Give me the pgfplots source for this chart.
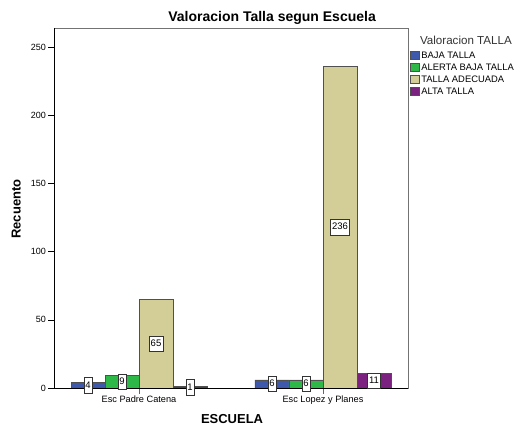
\documentclass[border=0pt]{standalone}
\usepackage{fontspec}
\setmainfont{Liberation Sans}
\usepackage{pgfplots}
\usepackage{pgfplotstable}
\pgfplotsset{compat=1.18}
\definecolor{cBlue}{HTML}{3E58AC}
\definecolor{cGreen}{HTML}{2EB848}
\definecolor{cTan}{HTML}{D3CE97}
\definecolor{cPurple}{HTML}{7B2281}
\definecolor{cEdge}{HTML}{505050}
\pgfplotstableread{
x baja alerta adecuada alta
0 4 9 65 1
1 6 6 236 11
}\datatable
\begin{document}
\begin{tikzpicture}
\path[use as bounding box] (0,0) rectangle (518pt,425pt);
\begin{axis}[
  at={(54pt,37pt)}, anchor=south west,
  scale only axis, width=354pt, height=360pt,
  xmin=-0.462, xmax=1.462, ymin=0, ymax=264,
  xtick={0,1}, xticklabels={Esc Padre Catena, Esc Lopez y Planes},
  ytick={0,50,100,150,200,250},
  ytick pos=left, xtick pos=bottom,
  tick align=outside, major tick length=5.5pt,
  xtick style={black!60},
  ytick style={black, line width=0.6pt},
  x tick label style={font=\fontsize{9.2}{10}\selectfont, yshift=1pt},
  y tick label style={font=\fontsize{9}{10}\selectfont, xshift=1pt},
  /pgf/number format/assume math mode=true,
  axis line style={black!55, line width=0.7pt},
  title={Valoracion Talla segun Escuela},
  title style={font=\bfseries\fontsize{14}{16}\selectfont, at={(0.616,1.010)}, anchor=center},
  xlabel={ESCUELA},
  xlabel style={font=\bfseries\fontsize{13}{15}\selectfont, at={(0.503,-0.086)}, anchor=center},
  ylabel={Recuento},
  ylabel style={font=\bfseries\fontsize{13}{15}\selectfont, at={(-0.107,0.497)}, anchor=center, rotate=0},
  legend style={at={(1.006,0.938)}, anchor=north west, draw=none, fill=none,
    inner sep=0pt, row sep=2pt, column sep=1.5pt,
    font=\fontsize{9.4}{10}\selectfont,
    nodes={inner sep=0.5pt, text height=7pt, text depth=2pt}},
  legend cell align=left,
  legend image code/.code={\draw[#1, draw=cEdge, line width=0.5pt] (0pt,-4.2pt) rectangle (8.5pt,4.2pt);},
  clip=false,
]
\addplot[ybar, bar width=34pt, line width=0.6pt, fill=cBlue, draw=cEdge, bar shift=-51pt] table[x=x, y=baja]{\datatable};
\addlegendentry{BAJA TALLA}
\addplot[ybar, bar width=34pt, line width=0.6pt, fill=cGreen, draw=cEdge, bar shift=-17pt] table[x=x, y=alerta]{\datatable};
\addlegendentry{ALERTA BAJA TALLA}
\addplot[ybar, bar width=34pt, line width=0.6pt, fill=cTan, draw=cEdge, bar shift=17pt] table[x=x, y=adecuada]{\datatable};
\addlegendentry{TALLA ADECUADA}
\addplot[ybar, bar width=34pt, line width=0.6pt, fill=cPurple, draw=cEdge, bar shift=51pt] table[x=x, y=alta]{\datatable};
\addlegendentry{ALTA TALLA}
% value labels at half bar height
\pgfplotsset{lbl/.style={draw=none, mark=none, forget plot, point meta=explicit,
  nodes near coords, nodes near coords style={anchor=center, fill=white, draw=black!80, line width=0.5pt,
  inner xsep=1.5pt, inner ysep=0pt, text height=7.5pt, text depth=2pt, minimum height=15.5pt,
  font=\fontsize{9.5}{10}\selectfont}}}
\addplot[lbl] table[x expr=\thisrow{x}-0.2772, y expr=\thisrow{baja}/2, meta=baja]{\datatable};
\addplot[lbl] table[x expr=\thisrow{x}-0.0924, y expr=\thisrow{alerta}/2, meta=alerta]{\datatable};
\addplot[lbl] table[x expr=\thisrow{x}+0.0924, y expr=\thisrow{adecuada}/2, meta=adecuada]{\datatable};
\addplot[lbl] table[x expr=\thisrow{x}+0.2772, y expr=\thisrow{alta}/2, meta=alta]{\datatable};
\draw[black, line width=0.7pt] (rel axis cs:0,0) -- (rel axis cs:1,0);
\draw[black, line width=0.7pt] (rel axis cs:0,0) -- (rel axis cs:0,1);
\node[anchor=west, font=\fontsize{11.6}{13}\selectfont, text=black!80] at (rel axis cs:1.024,0.967) {Valoracion TALLA};
\end{axis}
\end{tikzpicture}
\end{document}
